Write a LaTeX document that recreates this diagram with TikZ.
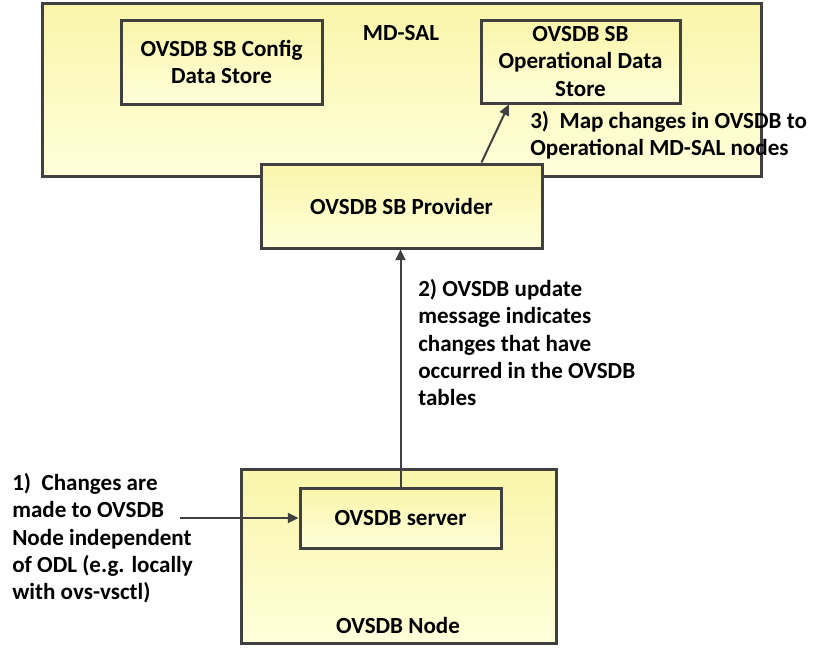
\documentclass[tikz,border=0pt]{standalone}
\usepackage{fontspec}
\setmainfont{Carlito}
\usepackage{tikz}
\usetikzlibrary{arrows.meta,positioning,shadows}
\definecolor{boxtop}{RGB}{249,245,170}
\definecolor{boxbot}{RGB}{255,255,218}
\definecolor{boxline}{RGB}{64,64,64}

\begin{document}
\begin{tikzpicture}[x=0.75pt, y=-0.75pt,
    box/.style={draw=boxline, line width=2.25pt, top color=boxtop, bottom color=boxbot,
        drop shadow={shadow xshift=1.2pt, shadow yshift=-1.2pt, fill=black, opacity=0.18},
        inner sep=0pt, align=center, font=\bfseries\fontsize{17.3}{20.5}\selectfont},
    txt/.style={inner sep=0pt, align=left, font=\bfseries\fontsize{17.3}{20.5}\selectfont},
    arr/.style={-{Triangle[length=8pt, width=7.5pt]}, line width=1.5pt, draw=boxline}
]
\useasboundingbox (0,0) rectangle (827,651);

\node[box, minimum width=539.25pt, minimum height=129.75pt] (mdsal) at (401.5,89.5) {};
\node[txt] (mdsallabel) at (401,33) {MD-SAL};
\node[box, minimum width=150.75pt, minimum height=63pt] (config) at (221.5,62) {OVSDB SB Config\\Data Store};
\node[box, minimum width=149.25pt, minimum height=62.25pt] (oper) at (580.5,61.5) {OVSDB SB\\Operational Data\\Store};
\node[box, minimum width=210.75pt, minimum height=63pt] (provider) at (401.5,206) {OVSDB SB Provider};

\node[box, minimum width=236.25pt, minimum height=130.5pt] (ovsnode) at (398.5,556) {};
\node[txt] (ovsnodelabel) at (398,625) {OVSDB Node};
\node[box, minimum width=150.75pt, minimum height=45pt] (server) at (400.5,518) {OVSDB server};

\draw[arr] ([xshift=60pt]provider.north) -- ([xshift=22pt]oper.south west);
\node[txt, anchor=north west] (step3) at (530,111) {3)\ \ Map changes in OVSDB to\\Operational MD-SAL nodes};

\draw[arr] (server.north) -- (server.north |- provider.south);
\node[txt, anchor=north west] (step2) at (418,279) {2) OVSDB update\\message indicates\\changes that have\\occurred in the OVSDB\\tables};

\coordinate (odl) at (180,518);
\draw[arr] (odl) -- (server.west);
\node[txt, anchor=north west] (step1) at (12,473) {1)\ \ Changes are\\made to OVSDB\\Node independent\\of ODL (e.g. locally\\with ovs-vsctl)};
\end{tikzpicture}
\end{document}
